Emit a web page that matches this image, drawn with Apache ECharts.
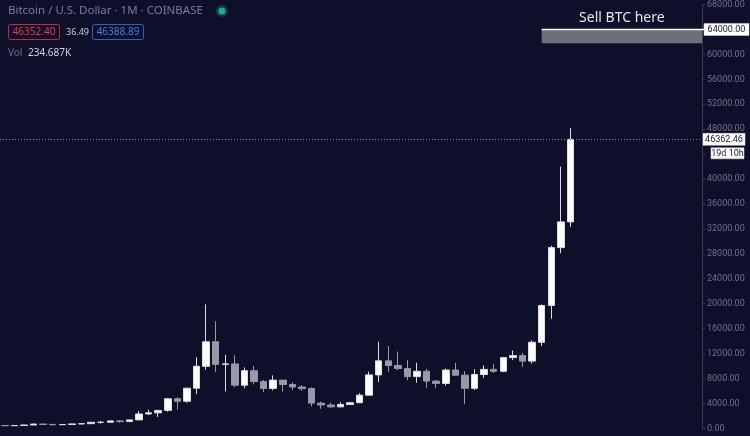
<!DOCTYPE html>
<html><head><meta charset="utf-8">
<script src="https://cdn.jsdelivr.net/npm/echarts@6/dist/echarts.min.js"></script>
<style>html,body{margin:0;padding:0;background:#0e1029;}#c{width:750px;height:436px;}</style>
</head><body><div id="c"></div>
<script>
const months = ['Mar 2016','Apr 2016','May 2016','Jun 2016','Jul 2016','Aug 2016','Sep 2016','Oct 2016','Nov 2016','Dec 2016',
'Jan 2017','Feb 2017','Mar 2017','Apr 2017','May 2017','Jun 2017','Jul 2017','Aug 2017','Sep 2017','Oct 2017','Nov 2017','Dec 2017',
'Jan 2018','Feb 2018','Mar 2018','Apr 2018','May 2018','Jun 2018','Jul 2018','Aug 2018','Sep 2018','Oct 2018','Nov 2018','Dec 2018',
'Jan 2019','Feb 2019','Mar 2019','Apr 2019','May 2019','Jun 2019','Jul 2019','Aug 2019','Sep 2019','Oct 2019','Nov 2019','Dec 2019',
'Jan 2020','Feb 2020','Mar 2020','Apr 2020','May 2020','Jun 2020','Jul 2020','Aug 2020','Sep 2020','Oct 2020','Nov 2020','Dec 2020',
'Jan 2021','Feb 2021','Mar 2021','Apr 2021','May 2021','Jun 2021','Jul 2021','Aug 2021','Sep 2021','Oct 2021','Nov 2021','Dec 2021',
'Jan 2022','Feb 2022','Mar 2022'];
const opens  = [437,416,448,531,673,624,575,609,700,742, 964,970,1190,1080,1350,2300,2480,2870,4730,4340,6440,9950,
 13880,10260,10330,6925,9240,7500,6400,7730,7030,6625,6370,4040, 3740,3440,3820,4100,5320,8570,10820,10080,9600,8300,9150,7570,
 7200,9350,8530,6410,8630,9450,9140,11350,11660,10780,13800,19700, 28990,33120];
const closes = [416,448,531,673,624,575,609,700,742,964, 970,1190,1080,1350,2300,2480,2870,4730,4340,6440,9950,13880,
 10260,10330,6925,9240,7500,6400,7730,7030,6625,6370,4040,3740, 3440,3820,4100,5320,8570,10820,10080,9600,8300,9150,7570,7200,
 9350,8530,6410,8630,9450,9140,11350,11660,10780,13800,19700,28990, 33120,46362.46];
const lows   = [400,413,440,530,605,470,573,605,685,740, 752,920,890,1060,1330,2140,1830,2670,2980,4100,5500,9400,
 9050,5900,6600,6430,7030,5790,6080,5880,6110,6000,3550,3120, 3350,3380,3720,4070,5320,7450,9070,9320,7730,7300,6520,6430,
 6860,8450,3860,6150,8100,8900,8990,10950,9880,10370,13200,17570, 28100,32300];
const highs  = [439,467,554,775,704,627,630,720,756,980, 1150,1200,1300,1360,2790,2980,2950,4870,4980,6470,11400,19890,
 17180,11790,11700,9770,10000,7760,8490,7760,7410,6900,6590,4310, 4110,4200,4140,5620,9100,13880,13200,12320,10950,10540,9500,7750,
 9580,10500,9190,9470,10080,10380,11440,12480,12080,14100,19900,29300, 41980,48200];
const yMin = 0, yMax = 68000, yStep = 4000;
const currentPrice = 46362.46;
const countdown = '19d 10h';
const sellZone = [61800, 64000];
const sellZoneStart = 'Nov 2020';
const sellLabel = 'Sell BTC here';

const candles = opens.map((o, i) => [o, closes[i], lows[i], highs[i]]);

const chart = echarts.init(document.getElementById('c'), null, {renderer: 'canvas'});
const BG = '#0e1029';
const gridTop = 4, gridBottom = 7.7, gridH = 436 - gridTop - gridBottom;
const countdownOffsetPx = 14;
const countdownValue = currentPrice - countdownOffsetPx / gridH * (yMax - yMin);
chart.setOption({
  backgroundColor: BG,
  animation: false,
  grid: {left: -7.84, top: gridTop, width: 707.7, bottom: gridBottom, containLabel: false},
  xAxis: {type: 'category', data: months, boundaryGap: true, show: false},
  yAxis: {
    type: 'value', position: 'right', min: yMin, max: yMax, interval: yStep, offset: 2.1,
    axisLine: {show: true, lineStyle: {color: '#3a3d52', width: 1}},
    axisTick: {show: true, length: 3, lineStyle: {color: '#3a3d52'}},
    axisLabel: {color: '#6f7288', fontFamily: 'Roboto', fontSize: 9, margin: 5,
      formatter: v => (Math.abs(v - countdownValue) < 1200 ? '' : v.toFixed(2))},
    splitLine: {show: false}
  },
  series: [{
    type: 'candlestick',
    data: candles,
    barWidth: 7,
    itemStyle: {color: '#ffffff', color0: '#9799a6', borderColor: '#dcdce3', borderColor0: '#9799a6', borderWidth: 1},
    markLine: {
      silent: true, symbol: 'none', animation: false,
      lineStyle: {type: [1, 2], color: '#8a8c99', width: 1},
      label: {show: false},
      data: [{yAxis: currentPrice}]
    }
  }]
});

function px(cat, val) { return chart.convertToPixel({xAxisIndex: 0, yAxisIndex: 0}, [cat, val]); }
const axisX = chart.convertToPixel({xAxisIndex: 0}, months[months.length - 1]) + 707.7 / months.length / 2 + 2.1;
const zTop = px(sellZoneStart, sellZone[1]);
const zBot = px(sellZoneStart, sellZone[0]);
const zLeft = zTop[0];
const priceY = px(months[0], currentPrice)[1];

function tagBox(y, text, x0, x1, h) {
  return [
    {type: 'rect', z: 100, shape: {x: x0, y: y - h / 2, width: x1 - x0, height: h}, style: {fill: '#ffffff', stroke: '#d8d8d8', lineWidth: 0.5}},
    {type: 'text', z: 101, x: (x0 + x1) / 2, y: y, style: {text: text, fill: '#131722', font: '9px Roboto', align: 'center', verticalAlign: 'middle'}}
  ];
}

const g = [];
// sell zone
g.push({type: 'rect', z: 50, shape: {x: zLeft, y: zTop[1], width: axisX - zLeft, height: zBot[1] - zTop[1]}, style: {fill: '#6d6f78'}});
g.push({type: 'line', z: 51, shape: {x1: zLeft, y1: zTop[1], x2: axisX + 3, y2: zTop[1]}, style: {stroke: '#ffffff', lineWidth: 1.5}});
g.push({type: 'text', z: 51, x: (zLeft + axisX) / 2, y: zTop[1] - 11, style: {text: sellLabel, fill: '#e6e6ea', font: '14px "Noto Sans"', align: 'center', verticalAlign: 'middle'}});
g.push(...tagBox(zTop[1], sellZone[1].toFixed(2), axisX + 2, 749, 12));
g.push(...tagBox(priceY, currentPrice.toFixed(2), axisX + 1, 745, 12));
g.push(...tagBox(priceY + countdownOffsetPx, countdown, axisX + 9, 744, 11));
// header
g.push({type: 'text', x: 8, y: 11, style: {text: 'Bitcoin / U.S. Dollar · 1M · COINBASE', fill: '#7a7d92', font: '11.5px "Noto Sans"', verticalAlign: 'middle'}});
g.push({type: 'circle', shape: {cx: 222, cy: 11, r: 6}, style: {fill: 'rgba(34,171,148,0.25)'}});
g.push({type: 'circle', shape: {cx: 222, cy: 11, r: 3.5}, style: {fill: '#22ab94'}});
g.push({type: 'rect', shape: {x: 8.5, y: 24.5, width: 51, height: 15, r: 2}, style: {fill: 'none', stroke: '#c62a3a', lineWidth: 1}});
g.push({type: 'text', x: 34, y: 32, style: {text: '46352.40', fill: '#e03a4b', font: '10px "Noto Sans"', align: 'center', verticalAlign: 'middle'}});
g.push({type: 'text', x: 66, y: 32, style: {text: '36.49', fill: '#c9ccd6', font: '9px "Noto Sans"', verticalAlign: 'middle'}});
g.push({type: 'rect', shape: {x: 92.5, y: 24.5, width: 51, height: 15, r: 2}, style: {fill: 'none', stroke: '#2a62c9', lineWidth: 1}});
g.push({type: 'text', x: 118, y: 32, style: {text: '46388.89', fill: '#3d7ee8', font: '10px "Noto Sans"', align: 'center', verticalAlign: 'middle'}});
g.push({type: 'text', x: 8, y: 53, style: {text: 'Vol', fill: '#6e7186', font: '10px "Noto Sans"', verticalAlign: 'middle'}});
g.push({type: 'text', x: 28, y: 53, style: {text: '234.687K', fill: '#d1d4dc', font: '10px "Noto Sans"', verticalAlign: 'middle'}});
chart.setOption({graphic: g});
</script></body></html>
